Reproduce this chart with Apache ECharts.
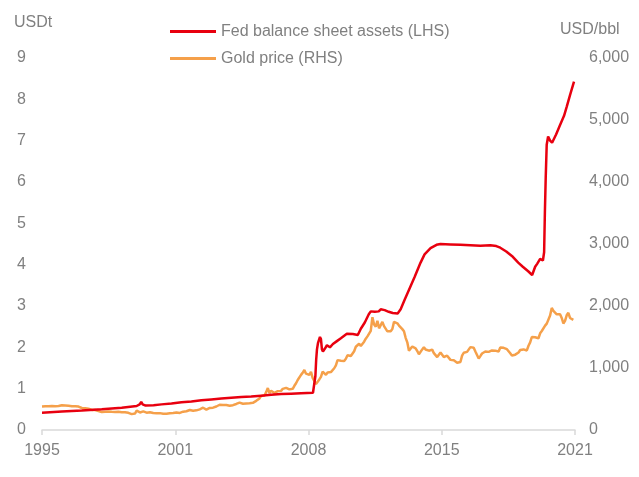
<!DOCTYPE html>
<html>
<head>
<meta charset="utf-8">
<script src="https://cdn.jsdelivr.net/npm/echarts@6/dist/echarts.min.js"></script>
<style>html,body{margin:0;padding:0;background:#fff;}#c{width:639px;height:477px;}</style>
</head>
<body>
<div id="c"></div>
<script>
// Fed balance sheet assets, USD trillions (LHS)
const fedDates = [1995.0,1996.0,1997.0,1998.0,1999.0,1999.75,1999.9,1999.98,2000.05,2000.2,2000.6,2001.0,2001.5,2002.0,2002.5,2003.0,2003.5,2004.0,2004.5,2005.0,2005.5,2006.0,2006.5,2007.0,2007.5,2008.0,2008.6,2008.7,2008.72,2008.76,2008.8,2008.85,2008.95,2009.0,2009.05,2009.1,2009.2,2009.3,2009.45,2009.6,2009.8,2010.0,2010.3,2010.6,2010.85,2011.0,2011.2,2011.4,2011.5,2011.7,2011.9,2012.0,2012.2,2012.4,2012.6,2012.85,2013.0,2013.2,2013.47,2013.7,2014.0,2014.2,2014.5,2014.8,2015.0,2015.5,2016.0,2016.5,2017.0,2017.5,2017.8,2018.0,2018.3,2018.63,2018.9,2019.13,2019.4,2019.6,2019.75,2019.85,2020.0,2020.14,2020.2,2020.24,2020.28,2020.33,2020.4,2020.5,2020.6,2020.8,2021.0,2021.2,2021.34,2021.5,2021.7];
const fedValues = [0.42,0.45,0.47,0.50,0.54,0.58,0.62,0.68,0.62,0.59,0.60,0.62,0.64,0.67,0.69,0.72,0.74,0.76,0.78,0.80,0.81,0.83,0.85,0.87,0.88,0.89,0.90,0.92,1.30,1.70,1.95,2.10,2.25,2.20,1.95,1.90,1.97,2.05,2.00,2.08,2.15,2.22,2.33,2.32,2.30,2.45,2.60,2.80,2.87,2.86,2.87,2.92,2.90,2.86,2.83,2.82,2.92,3.15,3.45,3.70,4.05,4.25,4.40,4.48,4.50,4.49,4.48,4.47,4.46,4.47,4.45,4.41,4.32,4.19,4.05,3.95,3.84,3.75,3.95,4.02,4.14,4.10,4.30,5.30,6.10,6.90,7.10,7.00,6.95,7.15,7.38,7.60,7.83,8.10,8.43];

// Gold price, USD (RHS), monthly from Jan 1995
const goldStartYear = 1995;
const goldMonthly = [
 379,376,382,391,385,387,386,383,383,383,386,387,
 400,405,396,393,392,385,383,387,383,381,378,369,
 355,347,352,344,344,341,324,324,323,325,306,289,
 289,297,296,308,299,292,293,284,289,296,294,291,
 287,287,286,282,277,262,256,257,265,311,293,283,
 284,300,286,280,275,286,282,274,273,270,266,272,
 266,262,263,261,272,270,268,273,283,283,276,276,
 282,296,294,302,314,322,313,310,319,317,319,333,
 357,359,340,328,356,356,351,360,379,379,389,407,
 414,405,406,404,384,392,398,400,405,420,439,442,
 424,423,434,429,422,431,424,438,456,470,476,510,
 550,555,557,611,676,596,633,632,598,586,627,629,
 631,664,655,680,668,655,665,665,713,754,806,803,
 889,923,968,909,888,890,940,839,829,740,760,816,
 858,943,924,890,928,946,934,949,996,1043,1127,1134,
 1118,1095,1113,1148,1205,1233,1193,1215,1271,1342,1370,1391,
 1356,1372,1424,1473,1510,1529,1600,1820,1700,1666,1760,1640,
 1656,1743,1675,1649,1591,1598,1594,1630,1744,1770,1721,1685,
 1671,1627,1593,1487,1414,1280,1286,1347,1349,1316,1275,1221,
 1244,1300,1336,1299,1287,1279,1311,1296,1239,1223,1176,1200,
 1251,1227,1178,1198,1199,1181,1131,1117,1125,1157,1086,1068,
 1097,1199,1246,1242,1260,1276,1337,1340,1326,1267,1238,1152,
 1192,1234,1231,1266,1246,1260,1236,1283,1315,1280,1283,1265,
 1331,1331,1325,1335,1303,1282,1238,1202,1199,1215,1221,1250,
 1291,1320,1300,1285,1283,1359,1413,1500,1510,1495,1471,1480,
 1560,1597,1592,1683,1716,1732,1847,1968,1921,1900,1866,1858,
 1867,1808,1718,1760,1850,1890,1807,1785,1776
];

const xTickValues = [1995, 2001.6875, 2008.375, 2015.0625, 2021.75];
const xTickLabels = ['1995','2001','2008','2015','2021'];
const leftTicks = [0,1,2,3,4,5,6,7,8,9];
const rightTicks = [0,1000,2000,3000,4000,5000,6000];
const seriesNames = ['Fed balance sheet assets (LHS)', 'Gold price (RHS)'];
const axisTitles = ['USDt', 'USD/bbl'];

const fedData = fedDates.map((d, i) => [d, fedValues[i]]);
const goldData = goldMonthly.map((v, i) => [goldStartYear + i / 12, v]);

const FONT = 'Liberation Sans, Arial, sans-serif';
const GREY = '#808080';
const RED = '#e8000f';
const ORANGE = '#f5a04a';
const FS = 16;

const chart = echarts.init(document.getElementById('c'), null, {renderer: 'canvas'});
chart.setOption({
  animation: false,
  backgroundColor: '#ffffff',
  textStyle: {fontFamily: FONT},
  grid: {left: 42, right: 64, top: 58, bottom: 47, containLabel: false},
  legend: {
    data: seriesNames,
    orient: 'vertical',
    left: 165,
    top: 18,
    icon: 'rect',
    itemWidth: 46,
    itemHeight: 3,
    itemGap: 10,
    textStyle: {color: GREY, fontSize: FS, fontFamily: FONT, lineHeight: 17}
  },
  graphic: [
    {type: 'text', left: 14, top: 15, style: {text: axisTitles[0], fill: GREY, font: FS + 'px ' + FONT}},
    {type: 'text', left: 560, top: 22, style: {text: axisTitles[1], fill: GREY, font: FS + 'px ' + FONT}}
  ],
  xAxis: {
    type: 'value',
    min: xTickValues[0],
    max: xTickValues[xTickValues.length - 1],
    axisLine: {show: true, lineStyle: {color: '#d9d9d9', width: 1.5}},
    axisTick: {show: true, customValues: xTickValues, length: 5, lineStyle: {color: '#d9d9d9', width: 1.5}},
    axisLabel: {
      customValues: xTickValues,
      color: GREY, fontSize: FS, fontFamily: FONT, margin: 13,
      formatter: function (v) {
        let best = 0;
        for (let i = 0; i < xTickValues.length; i++) {
          if (Math.abs(xTickValues[i] - v) < Math.abs(xTickValues[best] - v)) best = i;
        }
        return xTickLabels[best];
      }
    },
    splitLine: {show: false}
  },
  yAxis: [
    {
      type: 'value', min: leftTicks[0], max: leftTicks[leftTicks.length - 1], interval: 1,
      axisLine: {show: false}, axisTick: {show: false}, splitLine: {show: false},
      axisLabel: {color: GREY, fontSize: FS, fontFamily: FONT, margin: 16}
    },
    {
      type: 'value', min: rightTicks[0], max: rightTicks[rightTicks.length - 1], interval: 1000,
      axisLine: {show: false}, axisTick: {show: false}, splitLine: {show: false},
      axisLabel: {color: GREY, fontSize: FS, fontFamily: FONT, margin: 14,
        formatter: function (v) { return v.toLocaleString('en-US'); }}
    }
  ],
  series: [
    {
      name: seriesNames[1], type: 'line', yAxisIndex: 1, data: goldData,
      showSymbol: false, symbol: 'none', z: 2,
      lineStyle: {color: ORANGE, width: 2.5}, itemStyle: {color: ORANGE}
    },
    {
      name: seriesNames[0], type: 'line', yAxisIndex: 0, data: fedData,
      showSymbol: false, symbol: 'none', z: 3,
      lineStyle: {color: RED, width: 2.5}, itemStyle: {color: RED}
    }
  ]
});
</script>
</body>
</html>
